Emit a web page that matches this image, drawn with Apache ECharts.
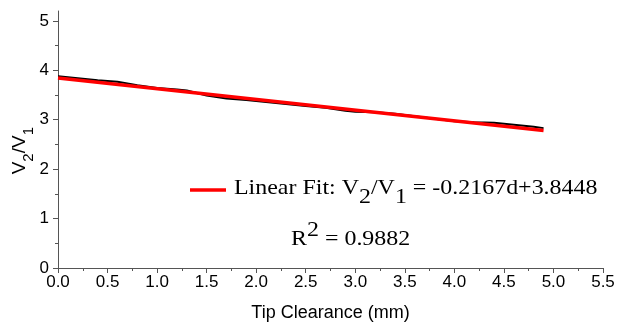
<!DOCTYPE html>
<html lang="en">
<head>
<meta charset="UTF-8">
<title>Tip clearance fit</title>
<script src="https://cdn.jsdelivr.net/npm/echarts@6/dist/echarts.min.js"></script>
<style>
  html, body { margin: 0; padding: 0; background: #fff; }
</style>
</head>
<body>
<div id="main" style="width: 619px;height:324px;"></div>
<script>
// measured V2/V1 vs tip clearance (mm)
var clearance = [0.0, 0.2, 0.4, 0.6, 0.8, 1.0, 1.2, 1.3, 1.5, 1.7, 1.9, 2.1, 2.3, 2.5, 2.7, 2.9, 3.0, 3.2, 3.4, 3.6, 3.8, 4.0, 4.2, 4.4, 4.6, 4.8, 4.9];
var ratio     = [3.88, 3.84, 3.80, 3.77, 3.70, 3.64, 3.61, 3.59, 3.49, 3.43, 3.40, 3.36, 3.32, 3.28, 3.24, 3.18, 3.16, 3.15, 3.12, 3.07, 3.02, 2.97, 2.95, 2.94, 2.90, 2.86, 2.83];
// linear fit end points
var fitX = [0.0, 4.9];
var fitY = [3.845, 2.783];
var yTicks = [0, 1, 2, 3, 4, 5];

var myChart = echarts.init(document.getElementById('main'));

var serif = '"Liberation Serif", "Times New Roman", serif';
var sans = '"Liberation Sans", Arial, sans-serif';
// the original picture is a bit wider than tall, stretch the free text to match
var stretch = 1.14;

var option = {
  animation: false,
  grid: { left: 58, right: 16, top: 11, bottom: 56, outerBoundsMode: 'none' },
  xAxis: {
    type: 'value', min: 0, max: 5.5, interval: 0.5,
    name: 'Tip Clearance (mm)', nameLocation: 'middle', nameGap: 36,
    nameTextStyle: { fontFamily: sans, fontSize: 18, color: '#000' },
    axisLine: { show: true, lineStyle: { color: '#555', width: 1 } },
    axisTick: { show: true, inside: false, length: 5, lineStyle: { color: '#555' } },
    minorTick: { show: true, splitNumber: 2, length: 3, lineStyle: { color: '#555' } },
    splitLine: { show: false },
    axisLabel: {
      fontFamily: sans, fontSize: 17, color: '#000', margin: 6,
      formatter: function (v) { return v.toFixed(1); },
      showMinLabel: true, showMaxLabel: true
    }
  },
  yAxis: {
    type: 'value', min: 0, max: 5.2, interval: 1,
    axisLine: { show: true, lineStyle: { color: '#555', width: 1 } },
    axisTick: { show: true, inside: false, length: 5, lineStyle: { color: '#555' }, customValues: yTicks },
    minorTick: { show: true, splitNumber: 2, length: 3, lineStyle: { color: '#555' } },
    splitLine: { show: false },
    axisLabel: {
      fontFamily: sans, fontSize: 17, color: '#000', margin: 9,
      customValues: yTicks
    }
  },
  graphic: [
    {
      type: 'text', left: 10, top: 127, rotation: Math.PI / 2,
      style: {
        text: '{m|V}{s|2}{m|/V}{s|1}',
        rich: {
          m: { fontFamily: sans, fontSize: 19, lineHeight: 26, verticalAlign: 'top', fill: '#000' },
          s: { fontFamily: sans, fontSize: 15, lineHeight: 26, verticalAlign: 'bottom', fill: '#000' }
        }
      }
    },
    {
      type: 'line', shape: { x1: 190, y1: 190, x2: 226, y2: 190 },
      style: { stroke: '#ff0000', lineWidth: 3.5 }
    },
    {
      type: 'text', x: 234, y: 178, scaleX: stretch,
      style: {
        text: '{m|Linear Fit: V}{s|2}{m|/V}{s|1}{m| = -0.2167d+3.8448}',
        rich: {
          m: { fontFamily: serif, fontSize: 21, lineHeight: 30, verticalAlign: 'top', fill: '#000' },
          s: { fontFamily: serif, fontSize: 21, lineHeight: 30, verticalAlign: 'bottom', fill: '#000' }
        }
      }
    },
    {
      type: 'text', x: 291, y: 220, scaleX: stretch,
      style: {
        text: '{s|R}{p|2}{s| = 0.9882}',
        rich: {
          s: { fontFamily: serif, fontSize: 21, lineHeight: 30, verticalAlign: 'bottom', fill: '#000' },
          p: { fontFamily: serif, fontSize: 21, lineHeight: 30, verticalAlign: 'top', fill: '#000' }
        }
      }
    }
  ],
  series: [
    {
      name: 'data', type: 'line', showSymbol: false, z: 2,
      lineStyle: { color: '#000', width: 2 },
      data: clearance.map(function (d, i) { return [d, ratio[i]]; })
    },
    {
      name: 'Linear Fit', type: 'line', showSymbol: false, z: 3,
      lineStyle: { color: '#ff0000', width: 3.5 },
      data: fitX.map(function (d, i) { return [d, fitY[i]]; })
    }
  ]
};

myChart.setOption(option);
</script>
</body>
</html>
